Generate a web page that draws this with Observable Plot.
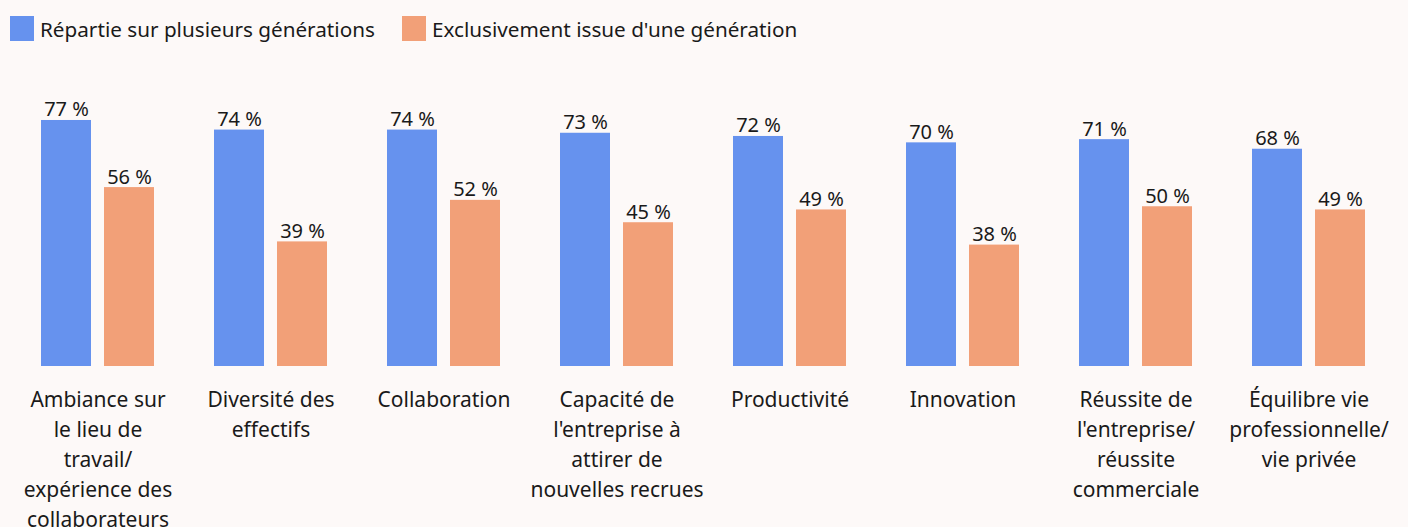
<!DOCTYPE html>
<html><head><meta charset="utf-8">
<script src="https://cdn.jsdelivr.net/npm/d3@7"></script>
<script src="https://cdn.jsdelivr.net/npm/@observablehq/plot@0.6"></script>
<style>
html,body{margin:0;padding:0;background:#fdf9f8;font-family:"Noto Sans",sans-serif;overflow:hidden}
#legend{position:relative;height:56px;font-size:20.7px;color:#1a1a1a}
.item{position:absolute;top:16px;height:25px;display:flex;align-items:center;white-space:nowrap}
.sw{width:24px;height:25px;margin-right:6px;flex:none}
</style></head><body>
<div id="legend"></div><div id="chart"></div>
<script>
const categories = [
  "Ambiance sur\nle lieu de\ntravail/\nexpérience des\ncollaborateurs",
  "Diversité des\neffectifs",
  "Collaboration",
  "Capacité de\nl'entreprise à\nattirer de\nnouvelles recrues",
  "Productivité",
  "Innovation",
  "Réussite de\nl'entreprise/\nréussite\ncommerciale",
  "Équilibre vie\nprofessionnelle/\nvie privée"
];
const series = ["Répartie sur plusieurs générations", "Exclusivement issue d'une génération"];
const multiGen = [77, 74, 74, 73, 72, 70, 71, 68];
const singleGen = [56, 39, 52, 45, 49, 38, 50, 49];
const colors = ["#6692ee", "#f2a078"];

const data = categories.flatMap((c, i) => [
  {category: c, series: series[0], value: multiGen[i]},
  {category: c, series: series[1], value: singleGen[i]}
]);

const legend = document.getElementById("legend");
const legendLeft = [10, 402];
series.forEach((s, i) => {
  const it = document.createElement("div");
  it.className = "item";
  it.style.left = legendLeft[i] + "px";
  const sw = document.createElement("div");
  sw.className = "sw";
  sw.style.background = colors[i];
  const t = document.createElement("span");
  t.textContent = s;
  it.append(sw, t);
  legend.append(it);
});

const chart = Plot.plot({
  width: 1408,
  height: 471,
  marginLeft: 39,
  marginRight: 41,
  marginTop: 54.4,
  marginBottom: 161,
  style: {background: "transparent", fontFamily: "'Noto Sans', sans-serif", fontSize: "20px", color: "#1a1a1a"},
  fx: {domain: categories, paddingInner: 0.336, paddingOuter: 0, label: null},
  x: {domain: series, paddingInner: 0.2, paddingOuter: 0, axis: null},
  y: {domain: [0, 80], axis: null},
  color: {domain: series, range: colors},
  marks: [
    Plot.barY(data, {fx: "category", x: "series", y: "value", fill: "series"}),
    Plot.text(data, {fx: "category", x: "series", y: "value", text: d => d.value + " %", lineAnchor: "bottom", dy: -4, fill: "#1a1a1a", fontSize: 20}),
    Plot.axisFx({anchor: "bottom", tickSize: 0, tickPadding: 19.5, lineHeight: 1.43, fontSize: 21, fill: "#1a1a1a", label: null, textOverflow: null})
  ]
});
document.getElementById("chart").append(chart);
</script>
</body></html>
